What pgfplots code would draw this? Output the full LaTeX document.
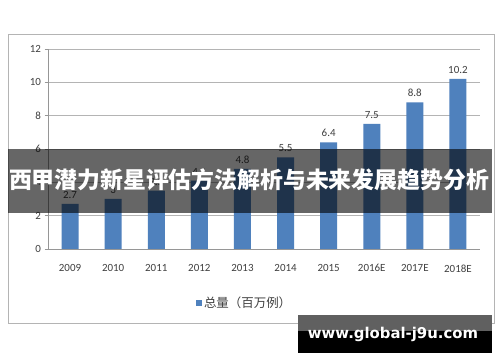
\documentclass[border=0pt]{standalone}
\usepackage{pgfplots}
\pgfplotsset{compat=1.18}
\usepackage{fontspec}
\setmainfont{Carlito}
\newfontfamily\cjk{Noto Sans CJK SC}
\newfontfamily\wm{DejaVu Sans}
\definecolor{barblue}{RGB}{79,129,189}
\definecolor{txt}{RGB}{64,64,64}
\definecolor{gridc}{RGB}{180,180,180}
\definecolor{axc}{RGB}{150,150,150}
\begin{document}
\begin{tikzpicture}
\useasboundingbox (0,0) rectangle (500bp,362bp);
\fill[white] (0,0) rectangle (500bp,362bp);
\draw[color=gridc, line width=0.8bp] (8bp,39bp) rectangle (494bp,328bp);
\begin{axis}[
  at={(48.5bp,113bp)}, anchor=south west,
  scale only axis, width=431bp, height=200bp,
  xmin=-0.5, xmax=9.5, ymin=0, ymax=12,
  ybar, bar width=17bp,
  axis x line*=bottom, axis y line*=left,
  axis line style={-, draw=axc, line width=0.8bp},
  xtick={0,...,9},
  xticklabels={2009,2010,2011,2012,2013,2014,2015,2016E,2017E,2018E},
  major x tick style={draw=none},
  extra x ticks={-0.5,0.5,...,9.5},
  extra x tick labels={},
  extra x tick style={grid=none, major tick length=4bp, tick style={draw=axc, line width=0.8bp}},
  ytick={0,2,...,12},
  ymajorgrids, grid style={draw=gridc, line width=0.8bp},
  tick align=outside,
  major tick length=4bp,
  y tick style={draw=axc, line width=0.8bp},
  tick label style={font=\fontsize{11}{13}\selectfont, text=txt},
  xticklabel style={yshift=-8bp},
  /pgf/number format/assume math mode=true,
  nodes near coords,
  nodes near coords style={font=\fontsize{11}{13}\selectfont, text=txt, yshift=2bp},
  legend style={draw=none, fill=none, at={(0.455,-0.27)}, anchor=center,
    font=\cjk\fontsize{12.5}{14}\selectfont, text=txt},
  legend image code/.code={\fill[barblue] (0bp,-3bp) rectangle (6bp,3bp);},
]
\addplot[fill=barblue, draw=none] coordinates {
 (0,2.7) (1,3.0) (2,3.5) (3,4.1) (4,4.8) (5,5.5) (6,6.4) (7,7.5) (8,8.8) (9,10.2)};
\addlegendentry{总量（百万例）}
\end{axis}
\fill[black, opacity=0.6] (8bp,149bp) rectangle (492bp,213bp);
\node[text=white, inner sep=0] at (249bp,182bp) {\resizebox{480bp}{!}{\cjk\bfseries\fontsize{24}{26}\selectfont 西甲潜力新星评估方法解析与未来发展趋势分析}};
\fill[color={rgb,255:red,96;green,96;blue,96}] (298bp,31bp) rectangle (492bp,47bp);
\fill[black] (298bp,9bp) rectangle (492bp,31bp);
\node[text=white, inner sep=0] at (393bp,28bp) {\resizebox{170bp}{!}{\wm\bfseries www.global-j9u.com}};
\end{tikzpicture}
\end{document}
